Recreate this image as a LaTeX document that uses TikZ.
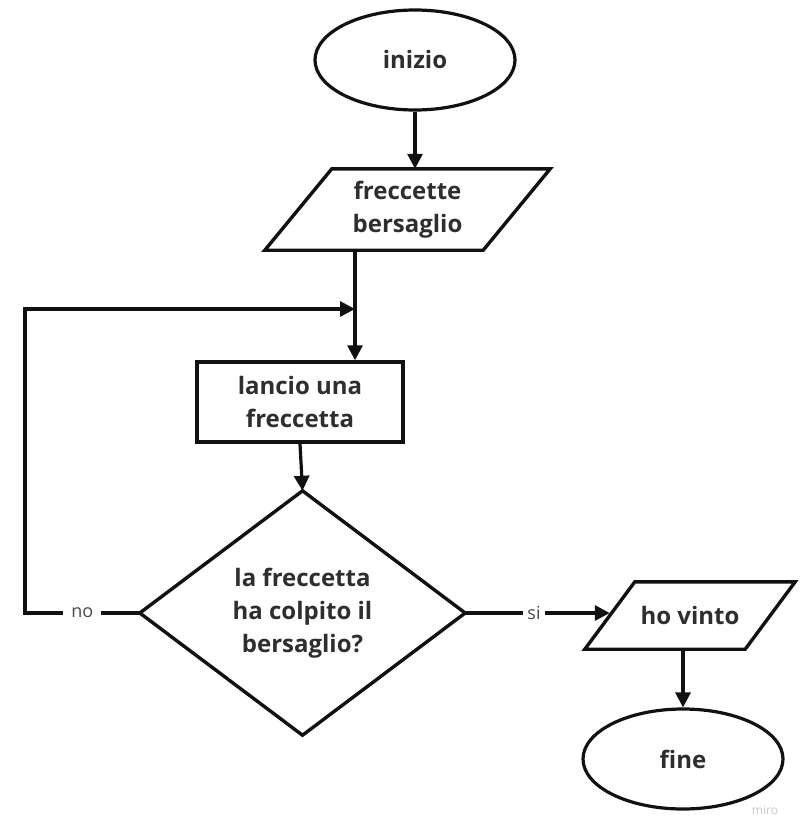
\documentclass[tikz,border=0pt]{standalone}
\usepackage{fontspec}
\setmainfont{Open Sans}
\usetikzlibrary{shapes.geometric,arrows.meta,calc}
\definecolor{ink}{HTML}{111111}
\definecolor{txt}{HTML}{2E2E2E}
\definecolor{lbltxt}{HTML}{4A4A4A}

\begin{document}
\begin{tikzpicture}[x=1pt,y=-1pt,
  txtfont/.style={text=txt,font=\fontsize{24}{33}\selectfont\bfseries,align=center,inner sep=0pt},
  terminal/.style={txtfont,ellipse,draw=ink,line width=3.2pt,minimum width=200pt,minimum height=100pt},
  process/.style={txtfont,rectangle,draw=ink,line width=3.4pt,minimum width=206pt,minimum height=80pt},
  frame/.style={txtfont,rectangle},
  outline/.style={draw=ink,line width=3.4pt,line join=miter},
  flow/.style={draw=ink,line width=3.2pt,line join=miter,-{Triangle[length=15pt,width=15pt]}},
  lbl/.style={fill=white,text=lbltxt,font=\fontsize{18}{20}\selectfont,inner ysep=2pt}
]
\useasboundingbox (0,0) rectangle (801,816);

% shapes
\node[terminal] (start) at (415,60) {inizio};

\node[frame,minimum width=285pt,minimum height=81pt] (data) at (407.5,209.5) {freccette\\bersaglio};
\draw[outline] ($(data.north west)+(67,0)$) -- (data.north east)
  -- ($(data.south east)+(-67,0)$) -- (data.south west) -- cycle;

\node[process] (act) at (300,402) {lancio una\\freccetta};

\node[frame,minimum width=325pt,minimum height=244pt] (dec) at (302.5,613)
  {la freccetta\\ha colpito il\\bersaglio?};
\draw[outline] (dec.north) -- (dec.east) -- (dec.south) -- (dec.west) -- cycle;

\node[frame,minimum width=210pt,minimum height=67pt] (win) at (690,615.5) {ho vinto};
\draw[outline] ($(win.north west)+(50,0)$) -- (win.north east)
  -- ($(win.south east)+(-50,0)$) -- (win.south west) -- cycle;

\node[terminal] (stop) at (683,759) {fine};

% helper points for the loop and the slanted entry
\coordinate (join) at (355,309);
\coordinate (loopc) at (25,309);
\coordinate (winL) at ($(win.west)+(25,0)$);

% connectors
\draw[flow] (start.south) -- (start.south |- data.north);
\draw[flow] (data.south -| join) -- (act.north -| join);
\draw[flow] (act.south) -- (dec.north);
\draw[flow] (dec.west) -- node[lbl,inner xsep=8pt]{no} (dec.west -| loopc) -- (loopc) -- (join);
\draw[flow] (dec.east) -- node[lbl,pos=0.476,inner xsep=4pt]{si} (dec.east -| winL);
\draw[flow] (stop.north |- win.south) -- (stop.north);

% watermark
\node[text=black!22,font=\fontsize{12}{14}\selectfont,anchor=base] (mark) at (765,814) {miro};
\end{tikzpicture}
\end{document}
